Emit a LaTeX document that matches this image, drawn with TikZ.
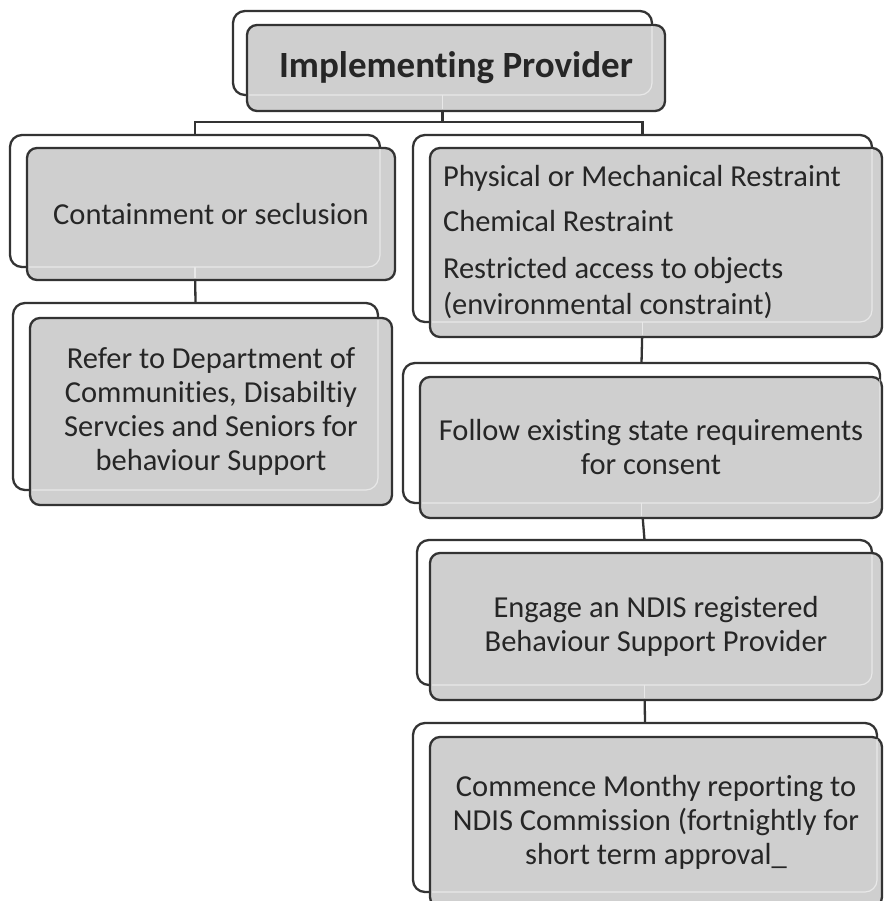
\documentclass[tikz,border=0pt]{standalone}
\usepackage{fontspec}
\setmainfont{Carlito}[Ligatures=NoCommon]
\usetikzlibrary{positioning,calc}

\begin{document}
\begin{tikzpicture}[
    x=1pt, y=1pt,
    font=\fontsize{30.5}{34}\selectfont,
    back/.style={draw=black!80, fill=white, line width=2.3pt, rounded corners=12pt,
      inner sep=0pt, outer sep=0pt},
    front/.style={draw=black!80, fill=black!19, line width=2.3pt, rounded corners=10pt,
      inner sep=0pt, outer sep=0pt, align=center, text=black!85},
    conn/.style={draw=black!80, line width=2.3pt},
    ghost/.style={draw=black!9, line width=1.2pt},
  ]
  \clip (0,0) rectangle (883,-901);

  % --- back plates (white, offset up-left) ---
  \node[back, minimum width=419pt, minimum height=84pt]  (bprov)    at (442.5,-53)   {};
  \node[back, minimum width=370pt, minimum height=132pt] (bcont)    at (195,-201)    {};
  \node[back, minimum width=365pt, minimum height=187pt] (brefer)   at (195.5,-396.5) {};
  \node[back, minimum width=459pt, minimum height=187pt] (brestr)   at (642.5,-228.5) {};
  \node[back, minimum width=477pt, minimum height=140pt] (bconsent) at (641.5,-433)  {};
  \node[back, minimum width=455pt, minimum height=145pt] (bengage)  at (644.5,-612.5) {};
  \node[back, minimum width=464pt, minimum height=169pt] (breport)  at (645,-807.5)  {};

  % --- tree lines ---
  \draw[conn] (bprov.south) -- ++(0,-27) -| (bcont.north);
  \draw[conn] (bprov.south) -- ++(0,-27) -| (brestr.north);
  \draw[conn] (bcont.south) -- (brefer.north);
  \draw[conn] (brestr.south) -- (bconsent.north);
  \draw[conn] (bconsent.south) -- (bengage.north);
  \draw[conn] (bengage.south) -- (breport.north);

  % --- grey cards ---
  \node[front, minimum width=418pt, minimum height=86pt] (fprov) at (456,-68)
    {\fontsize{37}{40}\selectfont\bfseries Implementing Provider};
  \node[front, minimum width=368pt, minimum height=132pt] (fcont) at (211,-214)
    {Containment or seclusion};
  \node[front, minimum width=362pt, minimum height=187pt] (frefer) at (211,-411.5)
    {Refer to Department of\\Communities, Disabiltiy\\Servcies and Seniors for\\behaviour Support};
  \node[front, minimum width=452pt, minimum height=189pt, align=flush left, text width=426pt]
    (frestr) at (656,-242.5)
    {Physical or Mechanical Restraint\\[11pt]Chemical Restraint\\[13pt]Restricted access to objects\\[2pt](environmental constraint)};
  \node[front, minimum width=462pt, minimum height=141pt] (fconsent) at (651,-447.5)
    {Follow existing state requirements\\for consent};
  \node[front, minimum width=452pt, minimum height=147pt] (fengage) at (656,-626.5)
    {Engage an NDIS registered\\Behaviour Support Provider};
  \node[front, minimum width=452pt, minimum height=170pt] (freport) at (656,-822)
    {Commence Monthy reporting to\\NDIS Commission (fortnightly for\\short term approval\_};

  % --- plate edges and lines faintly through the cards ---
  \foreach \n in {prov,cont,refer,restr,consent,engage,report} {
    \begin{scope}
      \clip ([shift={(2,2)}]f\n.south west) rectangle ([shift={(-2,-2)}]f\n.north east);
      \draw[ghost, rounded corners=12pt] (b\n.south west) rectangle (b\n.north east);
    \end{scope}
  }
  \foreach \n in {prov,cont,restr,consent,engage}
    \draw[ghost] (b\n.south) -- ([yshift=2]b\n.south |- f\n.south);
\end{tikzpicture}
\end{document}
